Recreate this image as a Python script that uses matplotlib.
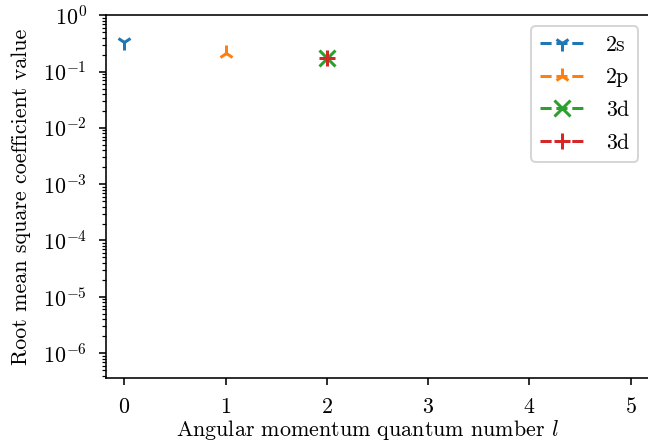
import numpy as np
import matplotlib
matplotlib.use("Agg")
import matplotlib.pyplot as plt

plt.rcParams['font.family'] = 'serif'
plt.rcParams['font.serif'] = ['cmr10']
plt.rcParams['mathtext.fontset'] = 'cm'
plt.rcParams['axes.formatter.use_mathtext'] = True
plt.rcParams['axes.unicode_minus'] = False
plt.rcParams['font.size'] = 11

# orbitals and their rms coefficient values
labels = ['2s', '2p', '3d', '3d']
l_vals = [0, 1, 2, 2]
rms = [0.34, 0.21, 0.175, 0.175]
markers = ['1', '2', 'x', '+']

fig = plt.figure(figsize=(4.5, 448 / 144), dpi=144)
ax = fig.add_axes([0.1636, 0.156, 0.838, 0.810])

for lab, l, v, m in zip(labels, l_vals, rms, markers):
    ax.plot([l], [v], linestyle='--', marker=m, markersize=8, markeredgewidth=1.5, label=lab)

ax.set_yscale('log')
ax.set_ylim(3.6e-7, 1)
ax.set_xlim(-0.18, 5.18)
ax.set_xticks(range(6))
ax.tick_params(axis='x', pad=6)
ax.tick_params(axis='y', pad=6)
ax.set_xlabel('Angular momentum quantum number $l$')
ax.set_ylabel('Root mean square coefficient value', labelpad=6)
ax.xaxis.set_label_coords(0.482, -0.11)
ax.legend(loc='upper right', labelspacing=0.6, handlelength=2.0, handletextpad=1.0)

fig.savefig('out.png', dpi=144)
